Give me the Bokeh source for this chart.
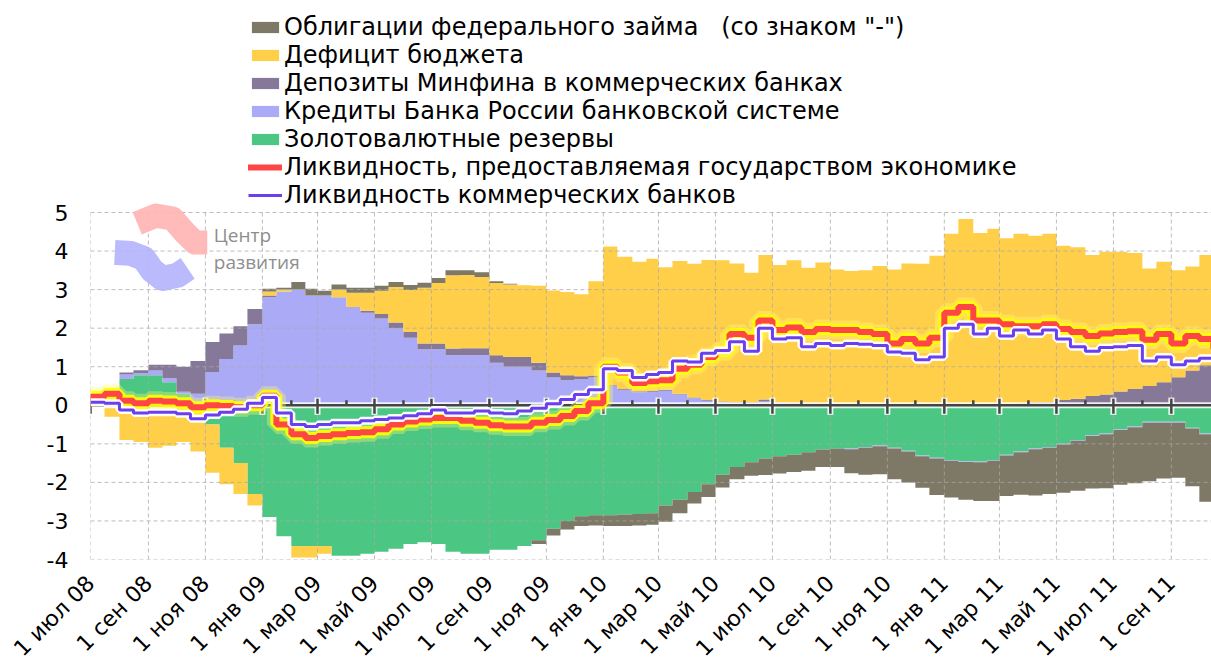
import numpy as np
import pandas as pd
from bokeh.plotting import figure
from bokeh.models import ColumnDataSource, Legend, LegendItem, FixedTicker, Range1d
from bokeh.core.properties import value
from bokeh.embed import file_html
from bokeh.resources import INLINE

# ---------------- data (semi-monthly, trillion roubles) ----------------
all_days = [f"{y}-{m:02d}-{d:02d}" for y in range(2008, 2012) for m in range(1, 13) for d in (1, 16)]
dates = pd.to_datetime([s for s in all_days if "2008-07-01" <= s <= "2011-10-16"])

# Золотовалютные резервы
reserves = [0, 0.25, 0.68, 0.78, 0.78, 0.6, 0.3, 0.1, -0.5, -1.1,
            -1.5, -2.3, -2.9, -3.4, -3.65, -3.65, -3.65, -3.9, -3.9, -3.85,
            -3.8, -3.72, -3.6, -3.55, -3.6, -3.8, -3.85, -3.85, -3.75, -3.75,
            -3.65, -3.5, -3.2, -3.0, -2.88, -2.85, -2.85, -2.83, -2.82, -2.8,
            -2.6, -2.45, -2.25, -2.05, -1.8, -1.6, -1.48, -1.38, -1.32, -1.28,
            -1.22, -1.15, -1.12, -1.12, -1.08, -1.04, -1.1, -1.18, -1.3, -1.36,
            -1.42, -1.45, -1.46, -1.42, -1.28, -1.2, -1.12, -1.08, -1.0, -0.9,
            -0.78, -0.73, -0.62, -0.55, -0.43, -0.43, -0.43, -0.58, -0.73, -0.8]
# Кредиты Банка России банковской системе
cbr_credits = [0, 0, 0.12, 0.05, 0.12, 0.1, 0.05, 0.2, 0.86, 1.2,
               1.55, 2.1, 2.8, 2.95, 3.0, 2.85, 2.85, 2.8, 2.55, 2.4,
               2.25, 2.0, 1.75, 1.45, 1.45, 1.3, 1.3, 1.3, 1.1, 1.0,
               1.0, 0.9, 0.72, 0.65, 0.68, 0.72, 0.5, 0.4, 0.35, 0.35,
               0.38, 0.28, 0.18, 0.12, 0.08, 0.06, 0.06, 0.1, 0.05, 0.04,
               0.03, 0.03, 0.02, -0.02, -0.02, -0.02, -0.02, -0.02, -0.02, -0.02,
               -0.02, -0.02, -0.02, -0.02, -0.02, -0.02, -0.02, -0.02, -0.02, -0.02,
               -0.02, -0.02, -0.02, -0.02, -0.02, -0.02, -0.02, -0.02, -0.02, -0.02]
# Депозиты Минфина в коммерческих банках
mf_deposits = [0, 0, 0.05, 0.08, 0.15, 0.35, 0.65, 0.85, 0.78, 0.66,
               0.5, 0.4, 0.05, 0, 0, 0, 0, 0, 0, 0.05,
               0.12, 0.15, 0.15, 0.15, 0.15, 0.17, 0.18, 0.18, 0.2, 0.25,
               0.25, 0.2, 0.13, 0.13, 0.07, 0.05, 0.02, 0.02, 0.02, 0.02,
               0.02, 0.02, 0.02, 0.02, 0.02, 0.02, 0.02, 0.05, 0.02, 0.02,
               0.02, 0.02, 0.02, 0.02, 0.02, 0.03, 0.02, 0.03, 0.02, 0.03,
               0.05, 0.03, 0.02, 0.03, 0.03, 0.05, 0.08, 0.08, 0.14, 0.17,
               0.24, 0.28, 0.36, 0.42, 0.5, 0.6, 0.73, 0.9, 1.04, 1.1]
# Дефицит бюджета
deficit = [-0.05, -0.3, -0.9, -0.95, -1.1, -1.05, -0.95, -1.2, -1.25, -0.95,
           -0.8, -0.3, 0.1, 0.05, -0.3, -0.3, -0.2, 0.2, 0.37, 0.47,
           0.6, 0.92, 1.09, 1.45, 1.57, 1.9, 1.9, 1.85, 1.87, 1.88,
           1.86, 2.0, 2.13, 2.16, 2.13, 2.45, 3.6, 3.43, 3.35, 3.43,
           3.18, 3.44, 3.47, 3.63, 3.66, 3.6, 3.36, 3.75, 3.57, 3.7,
           3.52, 3.65, 3.48, 3.46, 3.48, 3.58, 3.5, 3.65, 3.65, 3.85,
           4.4, 4.8, 4.45, 4.55, 4.3, 4.4, 4.32, 4.37, 4.0, 3.93,
           3.66, 3.7, 3.62, 3.53, 3.05, 3.12, 2.77, 2.7, 2.86, 2.9]
# Облигации федерального займа (со знаком "-")
ofz = [0, 0, 0, 0, 0, 0, 0, 0, 0, 0,
       0, 0, 0.07, 0.05, 0.2, 0.17, 0.12, 0.13, 0.13, 0.13,
       0.13, 0.13, 0.13, 0.13, 0.13, 0.13, 0.12, 0.12, 0.05, 0.02,
       0, -0.1, -0.18, -0.22, -0.25, -0.27, -0.28, -0.3, -0.3, -0.3,
       -0.42, -0.35, -0.3, -0.33, -0.33, -0.32, -0.35, -0.43, -0.45, -0.45,
       -0.48, -0.45, -0.48, -0.62, -0.7, -0.73, -0.8, -0.8, -0.82, -0.95,
       -0.95, -0.98, -1.0, -1.04, -1.05, -1.1, -1.2, -1.2, -1.25, -1.3,
       -1.36, -1.4, -1.42, -1.45, -1.52, -1.45, -1.43, -1.5, -1.75, -1.65]
# Ликвидность, предоставляемая государством экономике
state_liq = [0.22, 0.3, 0.12, 0.05, 0.12, 0.1, 0.05, -0.05, 0.0, -0.02,
             -0.05, 0.0, 0.25, -0.5, -0.75, -0.85, -0.8, -0.75, -0.72, -0.7,
             -0.62, -0.5, -0.42, -0.37, -0.33, -0.33, -0.4, -0.45, -0.52, -0.55,
             -0.55, -0.45, -0.38, -0.28, -0.15, 0.05, 1.0, 0.85, 0.58, 0.62,
             0.65, 0.95, 1.05, 1.25, 1.4, 1.85, 1.75, 2.2, 1.95, 2.02,
             1.9, 1.98, 1.95, 1.95, 1.9, 1.85, 1.6, 1.72, 1.6, 1.75,
             2.4, 2.55, 2.2, 2.2, 2.1, 2.05, 2.05, 2.1, 1.98, 1.9,
             1.8, 1.86, 1.9, 1.92, 1.7, 1.85, 1.6, 1.8, 1.72, 1.5]
# Ликвидность коммерческих банков
bank_liq = [0.08, 0.05, -0.12, -0.2, -0.18, -0.18, -0.22, -0.35, -0.25, -0.18,
            -0.1, 0.05, 0.2, -0.2, -0.5, -0.55, -0.5, -0.45, -0.45, -0.4,
            -0.37, -0.33, -0.27, -0.22, -0.12, -0.2, -0.2, -0.15, -0.2, -0.22,
            -0.15, -0.08, 0.04, 0.15, 0.28, 0.4, 0.95, 0.9, 0.72, 0.8,
            0.85, 1.15, 1.12, 1.35, 1.42, 1.65, 1.4, 2.0, 1.72, 1.75,
            1.52, 1.6, 1.55, 1.6, 1.58, 1.55, 1.38, 1.35, 1.18, 1.25,
            2.0, 2.1, 1.85, 2.0, 1.8, 1.95, 1.85, 1.95, 1.72, 1.52,
            1.4, 1.5, 1.52, 1.55, 1.15, 1.25, 1.05, 1.15, 1.22, 1.25]

series_names = ["Облигации федерального займа   (со знаком \"-\")", "Дефицит бюджета",
                "Депозиты Минфина в коммерческих банках", "Кредиты Банка России банковской системе",
                "Золотовалютные резервы"]
line_names = ["Ликвидность, предоставляемая государством экономике", "Ликвидность коммерческих банков"]

tick_labels = ["1 июл 08", "1 сен 08", "1 ноя 08", "1 янв 09", "1 мар 09", "1 май 09", "1 июл 09",
               "1 сен 09", "1 ноя 09", "1 янв 10", "1 мар 10", "1 май 10", "1 июл 10", "1 сен 10",
               "1 ноя 10", "1 янв 11", "1 мар 11", "1 май 11", "1 июл 11", "1 сен 11"]
y_ticks = [-4, -3, -2, -1, 0, 1, 2, 3, 4, 5]

# ---------------- helpers ----------------
def ms(ts):
    return float((pd.Timestamp(ts) - pd.Timestamp("1970-01-01")) / pd.Timedelta(milliseconds=1))

x_ms = [ms(d) for d in dates]
tick_dates = pd.date_range("2008-07-01", "2011-09-01", freq="2MS")
minor_dates = pd.date_range("2008-08-01", "2011-09-01", freq="2MS")
major_ms = [ms(d) for d in tick_dates]
minor_ms = [ms(d) for d in minor_dates]
x0, x1 = ms("2008-07-01"), ms("2011-10-14")
y_lo, y_hi = -4, 5
FRAME_H = 559
y_top = y_lo + (y_hi - y_lo) * FRAME_H / 347   # room above the plot for the legend

FONT = "DejaVu Sans"
p = figure(x_axis_type="datetime", frame_width=1121, frame_height=FRAME_H,
           min_border_left=90, min_border_right=0, min_border_top=0, min_border_bottom=109,
           output_backend="svg", toolbar_location=None,
           x_range=Range1d(x0, x1), y_range=Range1d(y_lo, y_top))
p.outline_line_color = None
p.background_fill_color = "white"
p.xgrid.visible = False
p.ygrid.visible = False

# axes
xa = p.xaxis[0]
xa.ticker = FixedTicker(ticks=major_ms)
xa.major_label_overrides = {t: l for t, l in zip(major_ms, tick_labels)}
xa.major_label_orientation = np.pi / 4
xa.axis_line_color = None
xa.major_tick_line_color = None
xa.minor_tick_line_color = None
xa.major_label_text_font = FONT
xa.major_label_text_font_size = "22px"
xa.major_label_text_color = "black"
xa.major_label_standoff = 14

ya = p.yaxis[0]
ya.ticker = FixedTicker(ticks=y_ticks)
ya.major_label_overrides = {v: str(v) for v in y_ticks}
ya.axis_line_color = None
ya.major_tick_line_color = None
ya.minor_tick_line_color = None
ya.major_label_text_font = FONT
ya.major_label_text_font_size = "22px"
ya.major_label_text_color = "black"
ya.major_label_standoff = 16

# ---------------- stacked areas (columns stacked separately by sign) ----------------
order = [("res", reserves, "#4cc683"), ("cred", cbr_credits, "#aaaaf7"),
         ("dep", mf_deposits, "#857899"), ("def", deficit, "#ffcf4a"), ("ofz", ofz, "#7e7866")]
data = {"x": x_ms}
pos_base = np.zeros(len(x_ms))
neg_base = np.zeros(len(x_ms))
for key, vals, col in order:
    v = np.array(vals, dtype=float)
    pv = np.clip(v, 0, None)
    nv = np.clip(v, None, 0)
    data[key + "_p0"] = pos_base.copy()
    data[key + "_p1"] = pos_base + pv
    data[key + "_n0"] = neg_base.copy()
    data[key + "_n1"] = neg_base + nv
    pos_base = pos_base + pv
    neg_base = neg_base + nv
data["state"] = state_liq
data["bank"] = bank_liq
src = ColumnDataSource(data)

area_r = {}
for key, vals, col in order:
    r1 = p.varea_step(x="x", y1=key + "_p0", y2=key + "_p1", source=src, step_mode="after",
                      fill_color=col)
    p.varea_step(x="x", y1=key + "_n0", y2=key + "_n1", source=src, step_mode="after",
                 fill_color=col)
    area_r[key] = r1

# ---------------- dashed grid (only over the value range -4..5) ----------------
p.segment(x0=major_ms, y0=[y_lo] * len(major_ms), x1=major_ms, y1=[y_hi] * len(major_ms),
          line_color="#a8a8a8", line_alpha=0.75, line_dash="4 3", line_width=1)
p.segment(x0=[x0] * len(y_ticks), y0=y_ticks, x1=[x1] * len(y_ticks), y1=y_ticks,
          line_color="#a8a8a8", line_alpha=0.75, line_dash="4 3", line_width=1)

# ---------------- logo ----------------
d0 = pd.Timestamp("2008-07-01")
def dd(days):
    return ms(d0 + pd.Timedelta(days=days))
p.line([dd(t) for t in (50, 70, 88, 101, 112, 125)], [4.72, 4.92, 4.84, 4.48, 4.22, 4.22],
       line_color="#ffb3b3", line_width=24, line_join="round", line_alpha=0.9)
p.line([dd(t) for t in (26, 43, 57, 66, 77, 93, 104)], [3.96, 3.94, 3.81, 3.5, 3.29, 3.37, 3.55],
       line_color="#b2b2fc", line_width=25, line_join="round", line_alpha=0.9)
p.text(x=[dd(132), dd(132)], y=[4.42, 3.72], text=["Центр", "развития"],
       text_font=value("Open Sans"), text_font_size="19px", text_color="#8e8e8e",
       text_baseline="middle", text_align="left")

# ---------------- zero axis with ticks ----------------
p.segment(x0=[x0], y0=[0], x1=[x1], y1=[0], line_color="white", line_width=6, line_alpha=0.85)
p.segment(x0=major_ms, y0=[0.2] * len(major_ms), x1=major_ms, y1=[-0.25] * len(major_ms),
          line_color="white", line_width=6, line_alpha=0.85)
p.segment(x0=[x0], y0=[0], x1=[x1], y1=[0], line_color="#454545", line_width=2.5)
p.segment(x0=major_ms, y0=[0.17] * len(major_ms), x1=major_ms, y1=[-0.22] * len(major_ms),
          line_color="#454545", line_width=2.5)
p.segment(x0=minor_ms, y0=[0.13] * len(minor_ms), x1=minor_ms, y1=[0] * len(minor_ms),
          line_color="#454545", line_width=2.5)

# ---------------- lines ----------------
p.step(x="x", y="state", source=src, mode="after", line_color="#ffff70", line_width=19, line_alpha=0.35)
p.step(x="x", y="state", source=src, mode="after", line_color="#ffff00", line_width=12, line_alpha=0.9)
r_state = p.step(x="x", y="state", source=src, mode="after", line_color="#ff4646", line_width=6,
                 line_cap="round")
p.step(x="x", y="bank", source=src, mode="after", line_color="white", line_width=8, line_alpha=0.95)
r_bank = p.step(x="x", y="bank", source=src, mode="after", line_color="#6a3ff0", line_width=3)

# ---------------- legend ----------------
items = [LegendItem(label=series_names[0], renderers=[area_r["ofz"]]),
         LegendItem(label=series_names[1], renderers=[area_r["def"]]),
         LegendItem(label=series_names[2], renderers=[area_r["dep"]]),
         LegendItem(label=series_names[3], renderers=[area_r["cred"]]),
         LegendItem(label=series_names[4], renderers=[area_r["res"]]),
         LegendItem(label=line_names[0], renderers=[r_state]),
         LegendItem(label=line_names[1], renderers=[r_bank])]
legend = Legend(items=items, location=(158, 350), orientation="vertical", margin=0, padding=0,
                spacing=0, glyph_width=34, glyph_height=14, label_height=28, label_standoff=2,
                label_text_font=FONT, label_text_font_size="24px", label_text_color="black",
                background_fill_alpha=0, border_line_color=None)
p.add_layout(legend)

open("out.html", "w").write(file_html(p, INLINE))
